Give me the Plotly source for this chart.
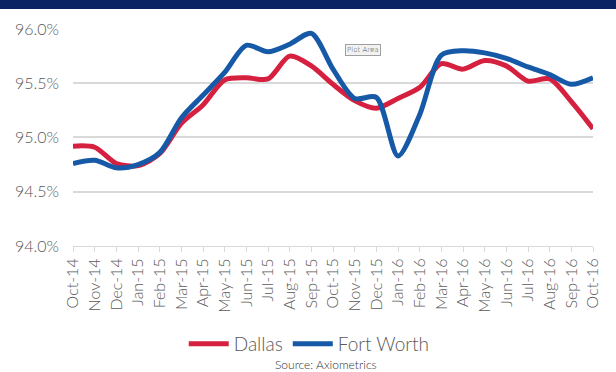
import plotly.graph_objects as go

months = ["Oct-14", "Nov-14", "Dec-14", "Jan-15", "Feb-15", "Mar-15", "Apr-15", "May-15",
          "Jun-15", "Jul-15", "Aug-15", "Sep-15", "Oct-15", "Nov-15", "Dec-15", "Jan-16",
          "Feb-16", "Mar-16", "Apr-16", "May-16", "Jun-16", "Jul-16", "Aug-16", "Sep-16", "Oct-16"]
dallas = [94.92, 94.91, 94.76, 94.74, 94.85, 95.13, 95.30, 95.53, 95.55, 95.54, 95.75, 95.66,
          95.49, 95.34, 95.27, 95.36, 95.46, 95.68, 95.63, 95.71, 95.66, 95.52, 95.54, 95.33, 95.08]
fort_worth = [94.76, 94.79, 94.72, 94.75, 94.86, 95.18, 95.39, 95.60, 95.85, 95.79, 95.86, 95.96,
              95.63, 95.36, 95.37, 94.83, 95.21, 95.76, 95.80, 95.78, 95.73, 95.65, 95.58, 95.49, 95.55]
y_ticks = [94.0, 94.5, 95.0, 95.5, 96.0]
y_labels = ["94.0%", "94.5%", "95.0%", "95.5%", "96.0%"]

FONT = "Lato"
W = 300
PLOT_TOP, PLOT_H, PLOT_L, PLOT_W = 29.3, 220.0, 73.0, 520.0

def py(pix):
    return (PLOT_TOP + PLOT_H - pix) / PLOT_H

def px(pix):
    return (pix - PLOT_L) / PLOT_W

fig = go.Figure()
fig.add_trace(go.Scatter(x=months, y=dallas, name="Dallas", mode="lines",
                         line=dict(color="#d6203f", width=5, shape="spline", smoothing=0.8)))
fig.add_trace(go.Scatter(x=months, y=fort_worth, name="Fort Worth", mode="lines",
                         line=dict(color="#1659a6", width=5, shape="spline", smoothing=0.8)))

fig.update_layout(
    width=616, height=372,
    margin=dict(l=73, r=23, t=29.3, b=372 - 249.3),
    paper_bgcolor="white", plot_bgcolor="white",
    font=dict(family=FONT, color="#595959", weight=W),
    showlegend=True,
    legend=dict(orientation="h", xref="container", yref="container",
                x=0.502, xanchor="center", y=1 - 344 / 372, yanchor="middle",
                font=dict(size=19, color="#595959", weight=W), itemwidth=40,
                traceorder="normal"),
    xaxis=dict(type="category", range=[0, 24], showgrid=False, showline=True,
               linecolor="#d9d9d9", linewidth=1, ticks="outside", ticklen=5,
               tickcolor="#d9d9d9", tickangle=-90,
               tickfont=dict(size=16, color="#595959", weight=W),
               fixedrange=True),
    yaxis=dict(range=[94, 96], tickvals=y_ticks, ticktext=y_labels, showgrid=True,
               gridcolor="#d9d9d9", gridwidth=1.5, zeroline=False, showline=False,
               tickfont=dict(size=16, color="#595959", weight=W), ticklabelstandoff=13,
               fixedrange=True),
    shapes=[dict(type="rect", xref="paper", yref="paper", x0=px(-5), x1=px(620),
                 y0=py(9), y1=py(-5), fillcolor="#0b2263", line_width=0,
                 layer="above")],
    annotations=[
        dict(text="Source: Axiometrics", xref="paper", yref="paper",
             x=px(326), y=py(370), xanchor="center", yanchor="middle",
             showarrow=False, font=dict(size=12, color="#333333", family=FONT, weight=W)),
        dict(text="Plot Area", xref="paper", yref="paper",
             x=px(363), y=py(51), xanchor="center", yanchor="middle",
             showarrow=False, font=dict(size=7, color="#444444", family="DejaVu Sans"),
             bgcolor="#f2f2f2", bordercolor="#a0a0a0", borderwidth=1, borderpad=1),
    ],
)
fig.write_html("out.html", config={"displayModeBar": False},
               post_script="document.body.style.margin='0px';")
